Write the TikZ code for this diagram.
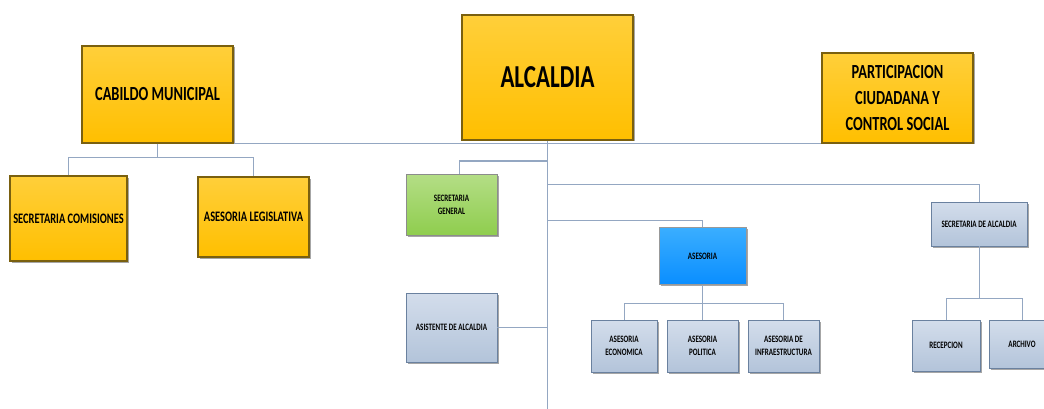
\documentclass[tikz,border=0pt]{standalone}
\usepackage{fontspec}
\setmainfont{Carlito}[FakeStretch=0.72]
\usetikzlibrary{shadows,calc}
\definecolor{goldtop}{HTML}{FFCF3A}
\definecolor{goldbot}{HTML}{FFBF00}
\definecolor{goldline}{HTML}{7A600F}
\definecolor{greentop}{HTML}{B4DE86}
\definecolor{greenbot}{HTML}{8FCD4E}
\definecolor{bluetop}{HTML}{3AAEFF}
\definecolor{bluebot}{HTML}{0A8EFF}
\definecolor{greytop}{HTML}{D3DDEB}
\definecolor{greybot}{HTML}{B3C4DA}
\definecolor{greyline}{HTML}{6A819F}
\definecolor{wire}{HTML}{94A7C2}
\tikzset{
  orgbox/.style={rectangle, inner sep=2pt, align=center, font=\bfseries,
    drop shadow={shadow xshift=1.5pt, shadow yshift=-1.5pt, fill=black!50, opacity=0.7}},
  goldbox/.style={orgbox, top color=goldtop, bottom color=goldbot, draw=goldline, line width=1.2pt},
  greenbox/.style={orgbox, top color=greentop, bottom color=greenbot, draw=black!45, line width=0.8pt},
  bluebox/.style={orgbox, top color=bluetop, bottom color=bluebot, draw=black!40, line width=0.8pt},
  greybox/.style={orgbox, top color=greytop, bottom color=greybot, draw=greyline, line width=0.8pt},
  wire/.style={draw=wire, line width=1pt},
  small/.style={font=\bfseries\fontsize{9.8}{13}\selectfont}
}
\begin{document}
\begin{tikzpicture}[x=1pt, y=-1pt]
\useasboundingbox (0,0) rectangle (1044,409);

% upper level
\node[goldbox, minimum width=151pt, minimum height=97pt, font=\bfseries\fontsize{20}{24}\selectfont]
  (cab) at (157.5,94.5) {CABILDO MUNICIPAL};
\node[goldbox, minimum width=171pt, minimum height=125pt, font=\bfseries\fontsize{32}{36}\selectfont]
  (alc) at (547.5,77.5) {ALCALDIA};
\node[goldbox, minimum width=151pt, minimum height=90pt, font=\bfseries\fontsize{20}{26}\selectfont]
  (par) at (897.5,98) {PARTICIPACION\\CIUDADANA Y\\CONTROL SOCIAL};

% council units
\node[goldbox, minimum width=117pt, minimum height=85pt, font=\bfseries\fontsize{14.5}{17}\selectfont]
  (sc) at (68.5,218.5) {SECRETARIA COMISIONES};
\node[goldbox, minimum width=111pt, minimum height=80pt, font=\bfseries\fontsize{14.5}{17}\selectfont]
  (al) at (253.5,217) {ASESORIA LEGISLATIVA};

% mayor's office units
\node[greenbox, small, minimum width=91pt, minimum height=61pt] (sg) at (451.5,204.5) {SECRETARIA\\GENERAL};
\node[greybox, small, minimum width=91pt, minimum height=69pt] (asi) at (451.5,327.5) {ASISTENTE DE ALCALDIA};
\node[bluebox, small, minimum width=87pt, minimum height=57pt] (ase) at (702.5,256) {ASESORIA};
\node[greybox, small, minimum width=96pt, minimum height=44pt] (sa) at (979,224) {SECRETARIA DE ALCALDIA};

\node[greybox, small, minimum width=66pt, minimum height=52pt] (ae) at (624,346) {ASESORIA\\ECONOMICA};
\node[greybox, small, minimum width=71pt, minimum height=52pt] (ap) at (702.5,346) {ASESORIA\\POLITICA};
\node[greybox, small, minimum width=71pt, minimum height=52pt] (ai) at (783.5,346) {ASESORIA DE\\INFRAESTRUCTURA};

\node[greybox, small, minimum width=68pt, minimum height=51pt] (rec) at (946,345.5) {RECEPCION};
\node[greybox, small, minimum width=66pt, minimum height=48pt] (arc) at (1022,344) {ARCHIVO};

% junction points on the main trunk
\coordinate (trunk) at (547.5,409);
\coordinate (j1) at (547.5,161);
\coordinate (j2) at (547.5,184);
\coordinate (j3) at (547.5,220);

% connectors
\draw[wire] (cab.south east) -- (par.south west);
\draw[wire] (alc.south) -- (trunk);
\draw[wire] (cab.south) -- ++(0,14) coordinate (c1);
\draw[wire] (sc.north) |- (c1) -| (al.north);
\draw[wire] (j1) -| ($(sg.north)+(7.5,0)$);
\draw[wire] (j2) -| (sa.north);
\draw[wire] (j3) -| (ase.north);
\draw[wire] (asi.east) -- (asi.east -| trunk);
\draw[wire] (ase.south) -- (ap.north);
\draw[wire] (ae.north) -- ++(0,-16) -| (ai.north);
\draw[wire] (sa.south) -- ++(0,52) coordinate (c2);
\draw[wire] (rec.north) |- (c2) -| (arc.north);
\end{tikzpicture}
\end{document}
